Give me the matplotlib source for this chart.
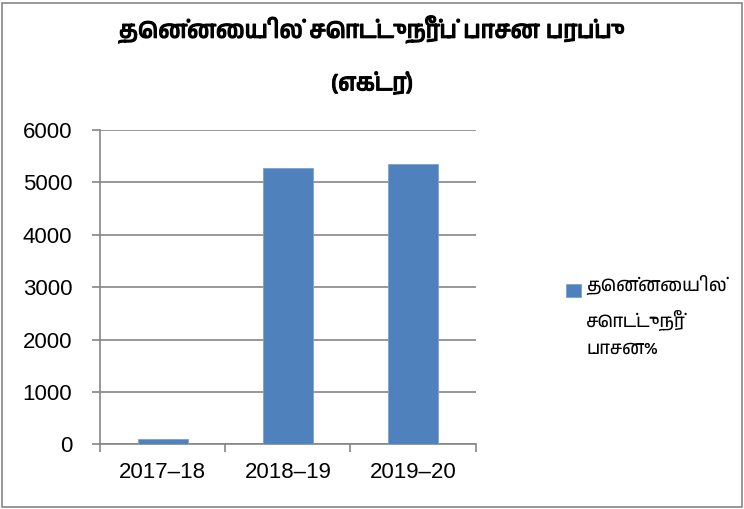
import matplotlib
matplotlib.use("Agg")
import matplotlib.pyplot as plt
from matplotlib import font_manager
from matplotlib.patches import Rectangle
from matplotlib.legend_handler import HandlerPatch
import matplotlib.patheffects as pe

# --- Datos ---
years = ["2017–18", "2018–19", "2019–20"]
area = [100, 5270, 5345]
title = "தென்னையில் சொட்டுநீர்ப் பாசன பரப்பு\n(எக்டர்)"
series_label = "தென்னையில்\nசொட்டுநீர்\nபாசன%"

# buscar una fuente con tamil si existe
tamil = [f.name for f in font_manager.fontManager.ttflist if "Tamil" in f.name]
tamil_fam = tamil[:1] + ["Liberation Sans", "DejaVu Sans"]
plt.rcParams["font.family"] = ["Liberation Sans", "DejaVu Sans"]

grey = "#868686"
blue = "#4f81bd"

fig = plt.figure(figsize=(7.44, 5.09), dpi=100)
ax = fig.add_axes([100 / 744, 1 - 444.3 / 509, 375.7 / 744, 314.3 / 509])

x = range(len(years))
bars = ax.bar(x, area, width=0.4, color=blue, edgecolor="#7ba0cf", linewidth=0.6,
              label=series_label, zorder=3)

ax.set_xlim(-0.5, 2.5)
ax.set_ylim(0, 6000)
ax.set_yticks(range(0, 6001, 1000))
ax.set_xticks(list(x))
ax.set_xticklabels(years, fontsize=16)
ax.set_xticks([-0.5, 0.5, 1.5, 2.5], minor=True)
ax.tick_params(axis="x", which="major", length=0, pad=13)
ax.tick_params(axis="x", which="minor", length=5.5, color=grey, width=1.2)
ax.tick_params(axis="y", length=6, color=grey, width=1.2, labelsize=16, pad=14)
ax.yaxis.grid(True, color=grey, linewidth=1.2, zorder=0)
ax.set_axisbelow(True)
for s in ["top", "right"]:
    ax.spines[s].set_visible(False)
for s in ["left", "bottom"]:
    ax.spines[s].set_color(grey)
    ax.spines[s].set_linewidth(1.2)

fig.text(0.5, 1 - 55 / 509, title, ha="center", va="center", fontsize=17,
         family=tamil_fam, linespacing=2.5,
         path_effects=[pe.withStroke(linewidth=0.9, foreground="black")])


# el cuadro de la leyenda va a la altura de la primera línea
def top_square(legend, orig_handle, xdescent, ydescent, width, height, fontsize):
    return Rectangle((-xdescent, -ydescent + 1.4 * fontsize), width, height)


handle = bars.patches[0]
leg = fig.legend(handles=[handle], labels=[series_label], loc="center left",
                 bbox_to_anchor=(550 / 744, 1 - 316 / 509), frameon=False,
                 prop={"family": tamil_fam, "size": 13}, handlelength=0.8,
                 handleheight=0.8, handletextpad=0.3,
                 handler_map={handle: HandlerPatch(patch_func=top_square)})
for t in leg.get_texts():
    t.set_linespacing(1.9)

# borde exterior del gráfico
fig.patches.append(Rectangle((2 / 744, 2 / 509), 740 / 744, 504 / 509,
                             transform=fig.transFigure, fill=False,
                             edgecolor=grey, linewidth=1.2))

fig.savefig("out.png", dpi=100)
